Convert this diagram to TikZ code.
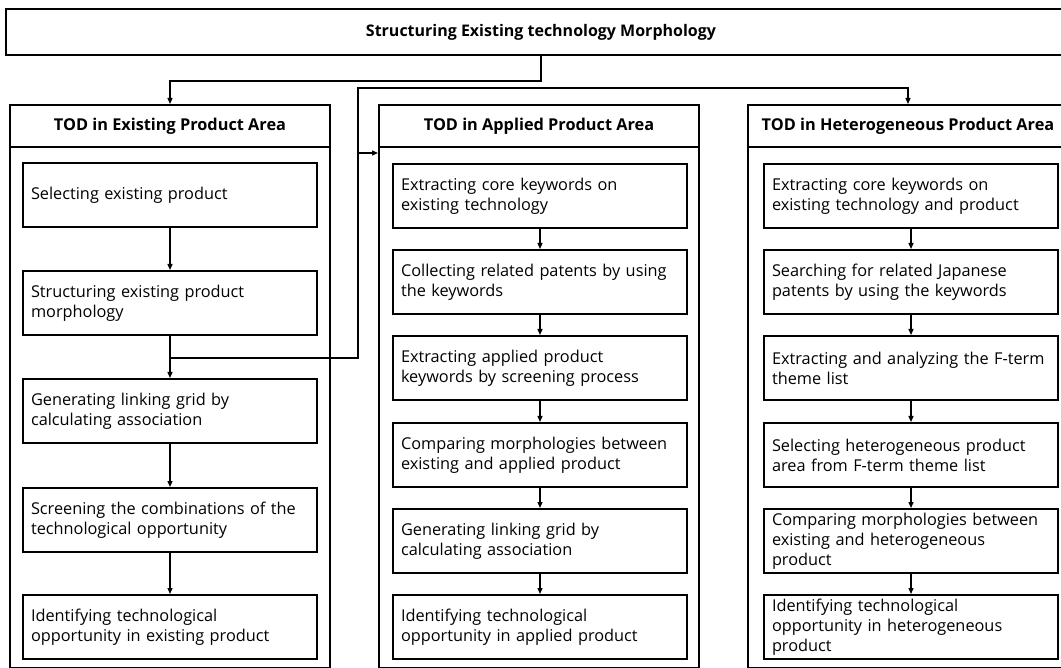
\documentclass[tikz,border=0pt]{standalone}
\usepackage{fontspec}
\setmainfont{Open Sans}
\usetikzlibrary{arrows.meta,calc}
\begin{document}
\begin{tikzpicture}[x=1pt,y=-1pt,
  box/.style={draw,line width=2pt,anchor=north west,minimum height=64pt,
    text width=278pt,inner xsep=8pt,inner ysep=0pt,align=left,
    font=\fontsize{16.3}{20}\selectfont},
  panel/.style={draw,line width=2pt,anchor=north west,inner sep=0pt},
  ptitle/.style={draw,line width=2pt,anchor=north west,minimum height=42pt,
    minimum width=320pt,inner sep=0pt,font=\fontsize{16.3}{18}\selectfont\bfseries},
  arr/.style={line width=1.3pt,-{Triangle[length=6pt,width=5pt]}}]
\useasboundingbox (0,0) rectangle (1061,668);
\fill[white] (0,0) rectangle (1061,668);
% top box
\node[draw,line width=2pt,anchor=north west,minimum width=1070pt,minimum height=46pt,inner sep=0pt,
  font=\fontsize{16}{18}\selectfont\bfseries] (top) at (5,8) {Structuring Existing technology Morphology};
% panels
\node[panel,minimum width=320pt,minimum height=563pt] (lp) at (9,104) {};
\node[ptitle] (lt) at (9,104) {TOD in Existing Product Area};
\node[panel,minimum width=320pt,minimum height=563pt] (mp) at (378,104) {};
\node[ptitle] (mt) at (378,104) {TOD in Applied Product Area};
\node[panel,minimum width=320pt,minimum height=563pt] (rp) at (747,104) {};
\node[ptitle] (rt) at (747,104) {TOD in Heterogeneous Product Area};
% left boxes
\node[box] (l1) at (22,162) {Selecting existing product};
\node[box] (l2) at (22,270) {Structuring existing product\\morphology};
\node[box] (l3) at (22,378) {Generating linking grid by\\calculating association};
\node[box] (l4) at (22,487) {Screening the combinations of the\\technological opportunity};
\node[box] (l5) at (22,594) {Identifying technological\\opportunity in existing product};
% middle boxes
\node[box] (m1) at (392,163) {Extracting core keywords on\\existing technology};
\node[box] (m2) at (392,249) {Collecting related patents by using\\the keywords};
\node[box] (m3) at (392,335) {Extracting applied product\\keywords by screening process};
\node[box] (m4) at (392,422) {Comparing morphologies between\\existing and applied product};
\node[box] (m5) at (392,508) {Generating linking grid by\\calculating association};
\node[box] (m6) at (392,594) {Identifying technological\\opportunity in applied product};
% right boxes
\node[box] (r1) at (763,163) {Extracting core keywords on\\existing technology and product};
\node[box] (r2) at (763,249) {Searching for related Japanese\\patents by using the keywords};
\node[box] (r3) at (763,335) {Extracting and analyzing the F-term\\theme list};
\node[box] (r4) at (763,422) {Selecting heterogeneous product\\area from F-term theme list};
\node[box] (r5) at (763,508) {Comparing morphologies between\\existing and heterogeneous\\product};
\node[box] (r6) at (763,594) {Identifying technological\\opportunity in heterogeneous\\product};
% vertical arrows
\foreach \a/\b in {l1/l2,l2/l3,l3/l4,l4/l5,m1/m2,m2/m3,m3/m4,m4/m5,m5/m6,r1/r2,r2/r3,r3/r4,r4/r5,r5/r6}
  \draw[arr] (\a) -- (\b);
% top connector
\draw[arr] (top.south) -- ++(0,25) -| (lt.north);
% branch connector
\coordinate (br) at ($(l2.south)+(0,22)$);
\coordinate (up) at (358,88);
\coordinate (mi) at (358,153);
\draw[arr] (br) -| (up) -| (rt.north);
\draw[arr] (mi) -- (mi -| mp.west);
\end{tikzpicture}
\end{document}
